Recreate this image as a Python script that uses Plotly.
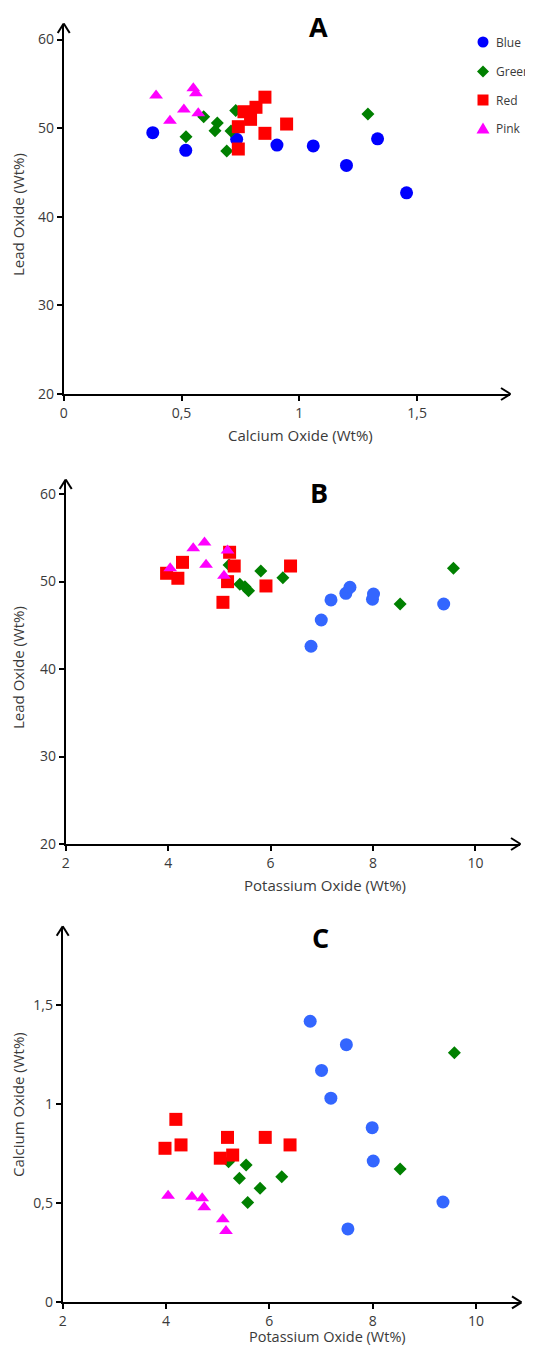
import plotly.graph_objects as go

# page size and the default 8px page margin of the HTML body
W, H = 533, 1354
OFF = 8

# ---------------- data ----------------
# Panel A : Calcium oxide (x) vs Lead oxide (y)
A_BLUE_CA = [0.378, 0.518, 0.734, 0.905, 1.059, 1.200, 1.332, 1.455]
A_BLUE_PB = [49.5, 47.5, 48.75, 48.1, 48.0, 45.8, 48.8, 42.7]
A_GREEN_CA = [0.519, 0.594, 0.652, 0.642, 0.710, 0.692, 0.730, 1.291]
A_GREEN_PB = [49.04, 51.3, 50.6, 49.72, 49.68, 47.43, 52.0, 51.6]
A_RED_CA = [0.854, 0.816, 0.765, 0.793, 0.741, 0.854, 0.946, 0.741]
A_RED_PB = [53.5, 52.36, 51.86, 51.0, 50.17, 49.42, 50.47, 47.65]
A_PINK_CA = [0.392, 0.550, 0.561, 0.510, 0.571, 0.451]
A_PINK_PB = [53.7, 54.5, 53.95, 52.1, 51.7, 50.85]

# Panel B : Potassium oxide (x) vs Lead oxide (y)
B_BLUE_K = [6.79, 6.99, 7.18, 7.47, 7.55, 7.99, 8.01, 9.38]
B_BLUE_PB = [42.6, 45.6, 47.89, 48.65, 49.34, 47.97, 48.57, 47.43]
B_GREEN_K = [5.19, 5.40, 5.50, 5.57, 5.81, 6.24, 8.53, 9.57]
B_GREEN_PB = [51.89, 49.68, 49.41, 48.95, 51.2, 50.43, 47.43, 51.5]
B_RED_K = [5.20, 4.28, 3.97, 4.19, 5.29, 5.16, 5.91, 6.39, 5.07]
B_RED_PB = [53.34, 52.19, 50.94, 50.37, 51.77, 49.98, 49.49, 51.77, 47.62]
B_PINK_K = [4.04, 4.49, 4.71, 4.74, 5.16, 5.09]
B_PINK_PB = [51.5, 53.8, 54.45, 51.9, 53.55, 50.65]

# Panel C : Potassium oxide (x) vs Calcium oxide (y)
C_BLUE_K = [6.79, 7.49, 7.01, 7.19, 7.99, 8.01, 9.36, 7.52]
C_BLUE_CA = [1.418, 1.30, 1.17, 1.03, 0.881, 0.713, 0.506, 0.37]
C_GREEN_K = [5.21, 5.55, 5.42, 5.82, 5.58, 6.24, 8.53, 9.58]
C_GREEN_CA = [0.709, 0.693, 0.626, 0.575, 0.503, 0.634, 0.673, 1.259]
C_RED_K = [4.19, 3.98, 4.29, 5.19, 5.92, 6.40, 5.05, 5.29]
C_RED_CA = [0.923, 0.777, 0.794, 0.832, 0.832, 0.794, 0.727, 0.743]
C_PINK_K = [4.04, 4.50, 4.70, 4.74, 5.10, 5.16]
C_PINK_CA = [0.537, 0.533, 0.525, 0.479, 0.419, 0.360]

SERIES = ["Blue", "Green", "Red", "Pink"]
CA_TICKS = [0, 0.5, 1, 1.5]
CA_TICKTEXT = ["0", "0,5", "1", "1,5"]
PB_TICKS = [20, 30, 40, 50, 60]
K_TICKS = [2, 4, 6, 8, 10]

# ---------------- styling ----------------
FONT = "Open Sans"
TXT = "#3a3a3a"
STYLE = {
    "Blue": dict(symbol="circle", size=13),
    "Green": dict(symbol="diamond", size=10),
    "Red": dict(symbol="square", size=13),
    "Pink": dict(symbol="triangle-up", size=12),
}
COL_A = {"Blue": "#0000FF", "Green": "#008000", "Red": "#FF0000", "Pink": "#FF00FF"}
COL_BC = {"Blue": "#3366FF", "Green": "#008000", "Red": "#FF0000", "Pink": "#FF00FF"}

# the figure sits 8px in from the page corner; keep the page from overflowing
# the window (no scrollbars)
FW, FH = W - OFF, H - 2 * OFF


def fx(p):
    """page pixel x -> paper fraction"""
    return (p - OFF) / FW


def fy(p):
    """page pixel y -> paper fraction"""
    return 1 - (p - OFF) / FH


fig = go.Figure()

panels = [
    ("x", "y", COL_A,
     [(A_BLUE_CA, A_BLUE_PB), (A_GREEN_CA, A_GREEN_PB), (A_RED_CA, A_RED_PB), (A_PINK_CA, A_PINK_PB)]),
    ("x2", "y2", COL_BC,
     [(B_BLUE_K, B_BLUE_PB), (B_GREEN_K, B_GREEN_PB), (B_RED_K, B_RED_PB), (B_PINK_K, B_PINK_PB)]),
    ("x3", "y3", COL_BC,
     [(C_BLUE_K, C_BLUE_CA), (C_GREEN_K, C_GREEN_CA), (C_RED_K, C_RED_CA), (C_PINK_K, C_PINK_CA)]),
]

for xa, ya, cols, data in panels:
    for name, (xs, ys) in zip(SERIES, data):
        st = STYLE[name]
        fig.add_trace(go.Scatter(
            x=xs, y=ys, mode="markers", name=name, xaxis=xa, yaxis=ya,
            legendgroup=name, showlegend=False,
            marker=dict(symbol=st["symbol"], size=st["size"], color=cols[name],
                        line=dict(width=0)),
            cliponaxis=False,
        ))

# axis geometry (page pixel positions of origin and arrow tips)
A_X = dict(dom=(63.7, 510), rng=(0, 1.894))
A_Y = dict(dom=(394, 24), rng=(20, 61.76))
B_X = dict(dom=(65.7, 520), rng=(2, 10.87))
B_Y = dict(dom=(844, 480), rng=(20, 61.6))
C_X = dict(dom=(62.7, 521), rng=(2, 10.87))
C_Y = dict(dom=(1302.3, 926.7), rng=(0, 1.895))

axis_common = dict(showline=True, linecolor="black", linewidth=2, ticks="outside",
                   ticklen=5, tickwidth=1.5, tickcolor="black", showgrid=False,
                   zeroline=False, tickfont=dict(family=FONT, size=14, color=TXT),
                   fixedrange=True)


def xax(g, anchor, vals, text=None):
    d = dict(axis_common, domain=[fx(g["dom"][0]), fx(g["dom"][1])], range=list(g["rng"]),
             anchor=anchor, tickmode="array", tickvals=vals)
    if text:
        d["ticktext"] = text
    return d


def yax(g, anchor, vals, text=None):
    d = dict(axis_common, domain=[fy(g["dom"][0]), fy(g["dom"][1])], range=list(g["rng"]),
             anchor=anchor, tickmode="array", tickvals=vals)
    if text:
        d["ticktext"] = text
    return d


fig.update_layout(
    width=FW, height=FH,
    margin=dict(l=0, r=0, t=0, b=0, autoexpand=False),
    paper_bgcolor="white", plot_bgcolor="white",
    xaxis=xax(A_X, "y", CA_TICKS, CA_TICKTEXT),
    yaxis=yax(A_Y, "x", PB_TICKS),
    xaxis2=xax(B_X, "y2", K_TICKS),
    yaxis2=yax(B_Y, "x2", PB_TICKS),
    xaxis3=xax(C_X, "y3", K_TICKS),
    yaxis3=yax(C_Y, "x3", CA_TICKS, CA_TICKTEXT),
    showlegend=False,
)


# open chevron arrow heads at the end of each axis (paper coordinates)
def seg(x0, y0, x1, y1):
    fig.add_shape(type="line", xref="paper", yref="paper",
                  x0=fx(x0), y0=fy(y0), x1=fx(x1), y1=fy(y1),
                  line=dict(color="black", width=2))


for gx, gy in [(A_X, A_Y), (B_X, B_Y), (C_X, C_Y)]:
    tx, ty = gx["dom"][1], gy["dom"][0]
    seg(tx - 9, ty - 6, tx + 0.5, ty)
    seg(tx - 9, ty + 6, tx + 0.5, ty)
    ux, uy = gx["dom"][0], gy["dom"][1]
    seg(ux - 6, uy + 9, ux, uy - 0.5)
    seg(ux + 6, uy + 9, ux, uy - 0.5)


# titles
def ann(text, x, y, size, angle=0, bold=False, anchor="center", color=None):
    fig.add_annotation(text=f"<b>{text}</b>" if bold else text, x=fx(x), y=fy(y),
                       xref="paper", yref="paper", showarrow=False, textangle=angle,
                       xanchor=anchor, yanchor="middle",
                       font=dict(family=FONT, size=size,
                                 color=color or ("black" if bold else TXT)))


ann("A", 318.5, 27, 27, bold=True)
ann("B", 319, 492, 27, bold=True)
ann("C", 320, 937, 27, bold=True)
ann("Calcium Oxide (Wt%)", 300, 435, 15)
ann("Potassium Oxide (Wt%)", 325, 885, 15)
ann("Potassium Oxide (Wt%)", 327, 1336, 14.5)
ann("Lead Oxide (Wt%)", 18, 215, 15, angle=-90)
ann("Lead Oxide (Wt%)", 18, 668, 15, angle=-90)
ann("Calcium Oxide (Wt%)", 18, 1105, 15, angle=-90)

# legend of panel A (swatches drawn as shapes, labels as text)
LEG_X, LEG_TX = 483, 494
LEG_Y = [42, 71.5, 100, 128.5]
for name, cy in zip(SERIES, LEG_Y):
    c = COL_A[name]
    if name == "Blue":
        fig.add_shape(type="circle", xref="paper", yref="paper",
                      x0=fx(LEG_X - 5.5), x1=fx(LEG_X + 5.5), y0=fy(cy + 5.5), y1=fy(cy - 5.5),
                      fillcolor=c, line=dict(width=0))
    elif name == "Red":
        fig.add_shape(type="rect", xref="paper", yref="paper",
                      x0=fx(LEG_X - 5.5), x1=fx(LEG_X + 5.5), y0=fy(cy + 5.5), y1=fy(cy - 5.5),
                      fillcolor=c, line=dict(width=0))
    elif name == "Green":
        pts = [(LEG_X, cy - 6), (LEG_X + 6, cy), (LEG_X, cy + 6), (LEG_X - 6, cy)]
        path = "M" + " L".join(f"{fx(a):.5f},{fy(b):.5f}" for a, b in pts) + " Z"
        fig.add_shape(type="path", xref="paper", yref="paper", path=path,
                      fillcolor=c, line=dict(width=0))
    else:
        pts = [(LEG_X, cy - 6), (LEG_X + 6.5, cy + 5), (LEG_X - 6.5, cy + 5)]
        path = "M" + " L".join(f"{fx(a):.5f},{fy(b):.5f}" for a, b in pts) + " Z"
        fig.add_shape(type="path", xref="paper", yref="paper", path=path,
                      fillcolor=c, line=dict(width=0))
    ann(name, LEG_TX, cy, 12, anchor="left")

fig.write_html("out.html")
